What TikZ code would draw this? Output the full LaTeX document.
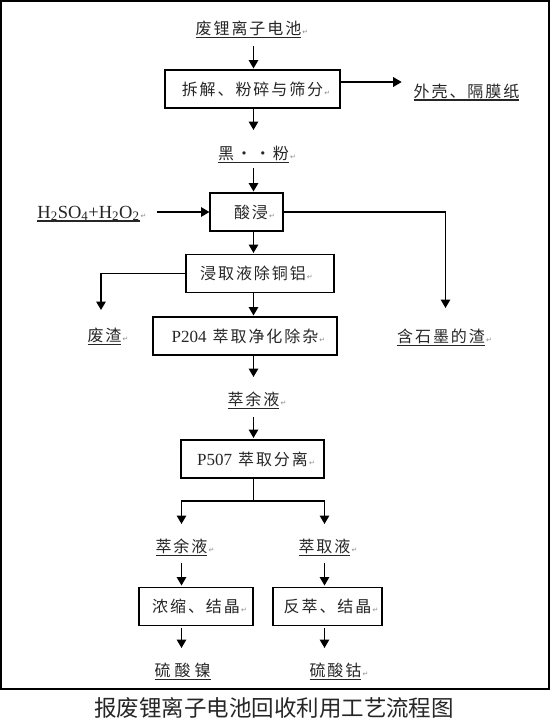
\documentclass[tikz,border=0pt]{standalone}
\usepackage{fontspec}
\setmainfont{Liberation Serif}
\newfontfamily\cjk[LetterSpace=12]{Noto Sans CJK SC}
\newfontfamily\cjkcap{Noto Sans CJK SC}
\newfontfamily\tnr{Liberation Serif}
\newfontfamily\dejavu{DejaVu Sans}
\usetikzlibrary{arrows.meta}
\newsavebox\ulbox
\newcommand\ulx[1]{\sbox\ulbox{#1}\rlap{\rule[-3.8pt]{\wd\ulbox}{1.8pt}}\usebox\ulbox}
\newcommand\rtmark{\rlap{\textcolor{black!45}{\dejavu\fontsize{7pt}{7pt}\selectfont\,↵}}}
\begin{document}
\begin{tikzpicture}[x=1pt,y=-1pt,
  every node/.style={inner sep=0pt,outer sep=0pt,text=black!85,font=\cjk\fontsize{16pt}{18pt}\selectfont},
  stepbox/.style={draw=black,line width=1.7pt,minimum height=38pt},
  lbl/.style={anchor=base,text height=13pt,text depth=3.8pt},
  latin/.style={font=\tnr\fontsize{18.5pt}{20pt}\selectfont},
  ln/.style={line width=1.6pt},
  arr/.style={line width=1.6pt,-{Triangle[length=8.5pt,width=9.5pt]}}]
\useasboundingbox (0,0) rectangle (550,723);
\draw[line width=1.8pt] (1,1) rectangle (549,689);
\coordinate (axis) at (253.5,0);

\node[lbl] (src) at (248.5,34.5) {\ulx{废锂离子电池}\rtmark};
\node[stepbox,minimum width=175pt] (b1) at (252.5,89) {拆解、粉碎与筛分\rtmark};
\node[lbl] (shell) at (466.5,97) {\ulx{外壳、隔膜纸}};
\node[lbl] (black) at (253.5,159.5) {\ulx{黑\hspace{2pt}·\hspace{3pt}·\hspace{2pt}粉}\rtmark};
\node[stepbox,minimum width=73pt] (leach) at (246.5,212) {\hspace*{9pt}酸浸\rtmark};
\node[lbl,latin] (acid) at (88.5,218) {\ulx{H\textsubscript{2}SO\textsubscript{4}+H\textsubscript{2}O\textsubscript{2}}\rtmark};
\node[stepbox,minimum width=148pt] (wash) at (260,273.5) {浸取液除铜铝\rtmark\hspace*{14pt}};
\node[lbl] (slag) at (104.5,341.5) {\ulx{废渣}\rtmark};
\node[lbl] (graph) at (441,342.5) {\ulx{含石墨的渣}\rtmark};
\node[stepbox,minimum width=184pt] (p204) at (245,336) {{\tnr\fontsize{17pt}{19pt}\selectfont P204}\hspace{6pt}萃取净化除杂\rtmark};
\node[lbl] (raf1) at (253.5,405.5) {\ulx{萃余液}\rtmark};
\node[stepbox,minimum width=143pt] (p507) at (252.5,459) {{\tnr\fontsize{17pt}{19pt}\selectfont P507}\hspace{6pt}萃取分离\rtmark};
\coordinate (split) at (253.5,501);
\node[lbl] (raf2) at (181.5,552.5) {\ulx{萃余液}\rtmark};
\node[lbl] (ext) at (324.5,552.5) {\ulx{萃取液}\rtmark};
\node[stepbox,minimum width=114pt] (conc) at (196,606.5) {浓缩、结晶\rtmark};
\node[stepbox,minimum width=109pt] (strip) at (327.5,606.5) {反萃、结晶\rtmark};
\node[lbl] (ni) at (182.5,676.5) {\ulx{硫\hspace{4pt}酸\hspace{4pt}镍}};
\node[lbl] (co) at (335.5,676.5) {\ulx{硫酸钴}\rtmark};
\node[font=\cjkcap\fontsize{22.5pt}{24pt}\selectfont] (cap) at (274,707.5) {报废锂离子电池回收利用工艺流程图};

\draw[arr,shorten <=8pt,shorten >=1.5pt] (src.south -| axis) -- (b1.north -| axis);
\draw[arr,shorten >=12pt] ([yshift=7pt]b1.east) -- ([yshift=7pt]b1.east -| shell.west);
\draw[arr,shorten >=16.5pt] (b1.south -| axis) -- (black.north -| axis);
\draw[arr,shorten <=5pt,shorten >=1.5pt] (black.south -| axis) -- (leach.north -| axis);
\draw[arr,shorten <=17pt,shorten >=0.5pt] (acid.east |- leach.west) -- (leach.west);
\draw[arr,shorten >=21.5pt] (leach.east) -| ([xshift=4.5pt]graph.north);
\draw[arr,shorten >=1.5pt] (leach.south -| axis) -- (wash.north -| axis);
\draw[arr,shorten >=18.5pt] (wash.west) -| ([xshift=-3.5pt]slag.north);
\draw[arr,shorten >=1.5pt] (wash.south -| axis) -- (p204.north -| axis);
\draw[arr,shorten >=15.5pt] (p204.south -| axis) -- (raf1.north -| axis);
\draw[arr,shorten <=8pt,shorten >=2pt] (raf1.south -| axis) -- (p507.north -| axis);
\draw[ln] (p507.south -| axis) -- (split);
\draw[arr,shorten >=15.5pt] (split) -| (raf2.north);
\draw[arr,shorten >=15.5pt] (split) -| (ext.north);
\draw[arr,shorten <=7pt,shorten >=2pt] (raf2.south) -- (raf2.south |- conc.north);
\draw[arr,shorten <=7pt,shorten >=2pt] (ext.south) -- (ext.south |- strip.north);
\draw[arr,shorten <=2pt,shorten >=15.5pt] (raf2.south |- conc.south) -- (raf2.south |- ni.north);
\draw[arr,shorten <=2pt,shorten >=15.5pt] (ext.south |- strip.south) -- (ext.south |- co.north);
\end{tikzpicture}
\end{document}
